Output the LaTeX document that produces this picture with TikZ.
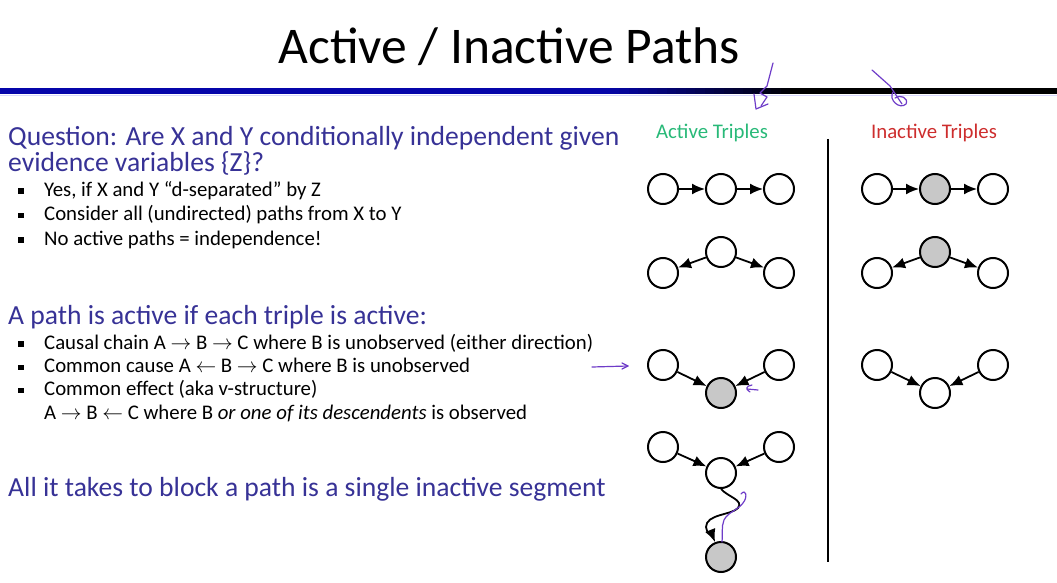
\documentclass[tikz,border=0pt]{standalone}
\usepackage{amsmath, amssymb}
\usepackage{fontspec}
\setmainfont{Carlito}
\usepackage{xcolor}
\usepackage{tikz}
\usetikzlibrary{arrows.meta}

\definecolor{headblue}{RGB}{55,50,150}
\definecolor{rulblue}{RGB}{5,5,170}
\definecolor{actgreen}{RGB}{40,185,120}
\definecolor{inactred}{RGB}{205,45,45}
\definecolor{obsgray}{RGB}{200,200,200}
\definecolor{penpurple}{RGB}{110,60,200}

\newcommand{\bul}{\makebox[26pt][l]{\rule[0.12em]{5.5pt}{5.5pt}}}
\newcommand{\nobul}{\hspace*{26pt}}

\begin{document}
\begin{tikzpicture}[x=1pt,y=-1pt,
  var/.style={circle,draw,line width=2pt,minimum size=30pt,inner sep=0pt},
  obs/.style={var,fill=obsgray},
  edge/.style={line width=1.8pt,-{Latex[length=13pt,width=11pt]}},
  pen/.style={penpurple,line width=1.2pt,line cap=round,line join=round},
  head/.style={anchor=base west,inner sep=0pt,text=headblue,font=\fontsize{27.6}{24}\selectfont,align=left},
  item/.style={anchor=base west,inner sep=0pt,align=left}]
\useasboundingbox (0,0) rectangle (1057,583);

% title and rule
\node (title) at (509,47) {\fontsize{51.5}{60}\selectfont Active / Inactive Paths};
\fill[rulblue] (0,88) rectangle (600,94);
\foreach \i in {0,...,19}
  \fill[rulblue!\the\numexpr100-5*\i\relax!black] (600+9.5*\i,88) rectangle (610+9.5*\i,94);
\fill[black] (790,88) rectangle (1057,94);
\draw[blue!15,line width=1pt] (0,95.5) -- (1057,95.5);

% left text (base = last line)
\node[head] (q1) at (8,171) {Question: Are X and Y conditionally independent given\\evidence variables \{Z\}?};
\node[item,font=\fontsize{20.8}{24.5}\selectfont] (bq) at (18,245)
  {\bul Yes, if X and Y ``d-separated'' by Z\\
   \bul Consider all (undirected) paths from X to Y\\
   \bul No active paths = independence!};

\node[head] (p1) at (8,324) {A path is active if each triple is active:};
\node[item,font=\fontsize{20.8}{23.2}\selectfont] (bp) at (18,419)
  {\bul Causal chain A $\rightarrow$ B $\rightarrow$ C where B is unobserved (either direction)\\
   \bul Common cause A $\leftarrow$ B $\rightarrow$ C where B is unobserved\\
   \bul Common effect (aka v-structure)\\
   \nobul A $\rightarrow$ B $\leftarrow$ C where B \textit{or one of its descendents} is observed};

\node[head] (blk) at (8,496) {All it takes to block a path is a single inactive segment};

% triples
\node[font=\fontsize{20.8}{24}\selectfont,text=actgreen] (act) at (712,133) {Active Triples};
\node[font=\fontsize{20.8}{24}\selectfont,text=inactred] (inact) at (934,133) {Inactive Triples};
\draw[line width=2.5pt] (828,139) -- (828,562);

% active: chain
\node[var] (a1l) at (663,189) {};
\node[var] (a1m) at (721,189) {};
\node[var] (a1r) at (779,189) {};
\draw[edge] (a1l)--(a1m);
\draw[edge] (a1m)--(a1r);
% active: common cause
\node[var] (a2t) at (721,252) {};
\node[var] (a2l) at (663,273) {};
\node[var] (a2r) at (779,273) {};
\draw[edge] (a2t)--(a2l);
\draw[edge] (a2t)--(a2r);
% active: common effect
\node[var] (a3l) at (663,365) {};
\node[var] (a3r) at (779,365) {};
\node[obs] (a3b) at (721,393) {};
\draw[edge] (a3l)--(a3b);
\draw[edge] (a3r)--(a3b);
% active: observed descendent
\node[var] (a4l) at (663,447) {};
\node[var] (a4r) at (779,447) {};
\node[var] (a4m) at (721,473) {};
\node[obs] (a4d) at (721,557) {};
\draw[edge] (a4l)--(a4m);
\draw[edge] (a4r)--(a4m);
\draw[edge] (a4m.south) .. controls (728,497) and (744,500) .. (738,508)
  .. controls (732,515) and (706,514) .. (706,527)
  .. controls (706,533) and (713,537) .. (a4d);

% inactive
\node[var] (i1l) at (877,189) {};
\node[obs] (i1m) at (935,189) {};
\node[var] (i1r) at (993,189) {};
\draw[edge] (i1l)--(i1m);
\draw[edge] (i1m)--(i1r);
\node[obs] (i2t) at (935,252) {};
\node[var] (i2l) at (877,273) {};
\node[var] (i2r) at (993,273) {};
\draw[edge] (i2t)--(i2l);
\draw[edge] (i2t)--(i2r);
\node[var] (i3l) at (877,365) {};
\node[var] (i3r) at (993,365) {};
\node[var] (i3b) at (935,393) {};
\draw[edge] (i3l)--(i3b);
\draw[edge] (i3r)--(i3b);

% pen marks
\draw[pen] (773,63) -- (767,86) -- (760,93) -- (767,97) -- (761,106);
\draw[pen] (754,94) -- (756,109) -- (768,104);
\draw[pen] (872,70) -- (890,86) -- (902,104);
\draw[pen] (893,92) .. controls (888,100) and (900,110) .. (906,104) .. controls (909,98) and (900,94) .. (895,98);
\draw[pen] (592,367) -- (628,366);
\draw[pen] (622,363) -- (628,366) -- (622,369);
\draw[pen] (758,390) -- (747,389);
\draw[pen] (752,385) .. controls (746,386) and (745,389) .. (750,392);
\draw[pen] (741,494) .. controls (746,488) and (748,497) .. (743,503)
  .. controls (738,510) and (728,512) .. (724,520)
  .. controls (721,527) and (723,535) .. (722,542);
\end{tikzpicture}
\end{document}
